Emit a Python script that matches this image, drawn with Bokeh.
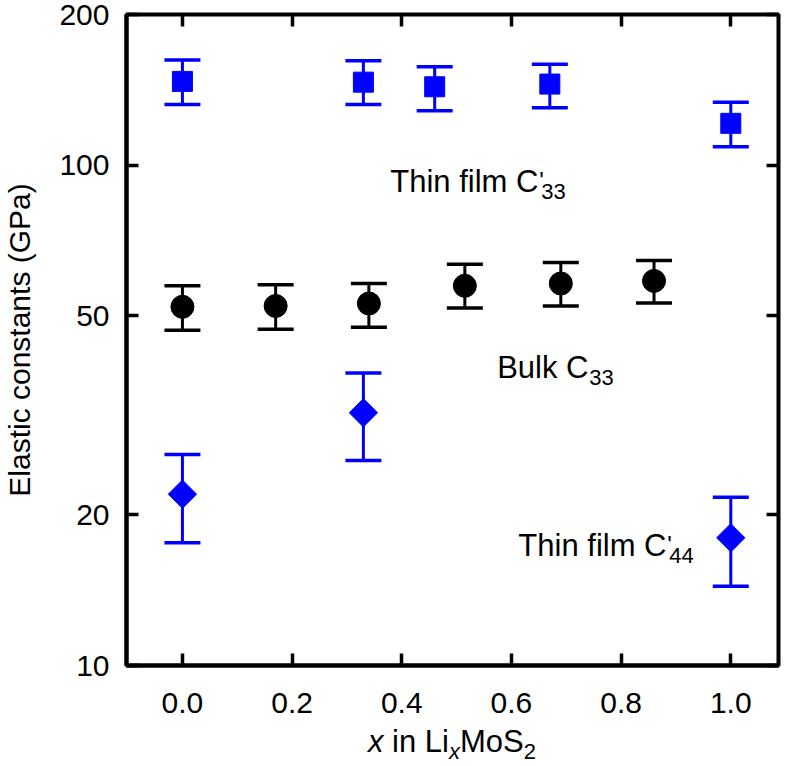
import numpy as np
from bokeh.plotting import figure
from bokeh.layouts import column
from bokeh.models import (Range1d, FixedTicker, NumeralTickFormatter, Whisker, TeeHead,
                          ColumnDataSource, Label, LinearAxis, LogAxis, Div)
from bokeh.embed import file_html
from bokeh.resources import INLINE

# ---- data ----
# Thin film C'33 (blue squares)
film33_x = [0.0, 0.33, 0.46, 0.67, 1.0]
film33_y = [147.0, 146.5, 143.4, 145.2, 121.2]
film33_lo = [132.2, 132.2, 128.4, 130.2, 108.8]
film33_hi = [162.2, 161.7, 157.3, 159.0, 133.5]

# Bulk C33 (black circles)
bulk33_x = [0.0, 0.17, 0.34, 0.515, 0.69, 0.86]
bulk33_y = [52.1, 52.3, 52.9, 57.4, 58.0, 58.7]
bulk33_lo = [46.8, 47.0, 47.4, 51.8, 52.3, 53.0]
bulk33_hi = [57.4, 57.7, 58.0, 63.4, 63.9, 64.5]

# Thin film C'44 (blue diamonds)
film44_x = [0.0, 0.33, 1.0]
film44_y = [22.0, 32.0, 18.0]
film44_lo = [17.6, 25.7, 14.4]
film44_hi = [26.4, 38.4, 21.7]

x_ticks = [0.0, 0.2, 0.4, 0.6, 0.8, 1.0]
y_ticks = [10, 20, 50, 100, 200]

FONT = "Liberation Sans"
BLUE = "#0000ff"

p = figure(width=788, height=728,
           x_range=Range1d(-0.102, 1.087), y_range=Range1d(10, 200),
           y_axis_type="log", output_backend="svg", toolbar_location=None,
           min_border_left=126, min_border_right=10, min_border_top=14, min_border_bottom=63)
p.grid.visible = False
p.outline_line_color = "black"
p.outline_line_width = 4
p.background_fill_color = "white"
p.border_fill_color = "white"


def style_axis(ax, labels=True):
    ax.axis_line_width = 4
    ax.major_tick_in = 12
    ax.major_tick_out = 0
    ax.major_tick_line_width = 3.5
    ax.minor_tick_line_color = None
    ax.major_label_text_font = FONT
    ax.major_label_text_color = "black"
    if labels:
        ax.major_label_text_font_size = "30px"
    else:
        ax.major_label_text_font_size = "0px"
        ax.major_label_text_color = None
        ax.major_label_standoff = 0
        ax.axis_line_color = None


xa = p.xaxis[0]
xa.ticker = FixedTicker(ticks=x_ticks)
xa.formatter = NumeralTickFormatter(format="0.0")
style_axis(xa)
xa.major_label_standoff = 27

ya = p.yaxis[0]
ya.ticker = FixedTicker(ticks=y_ticks)
ya.formatter = NumeralTickFormatter(format="0")
style_axis(ya)
ya.major_label_standoff = 17
ya.axis_label = "Elastic constants (GPa)"
ya.axis_label_text_font = FONT
ya.axis_label_text_font_size = "30px"
ya.axis_label_text_font_style = "normal"
ya.axis_label_text_color = "black"
ya.axis_label_standoff = 20

top = LinearAxis(ticker=FixedTicker(ticks=x_ticks))
style_axis(top, labels=False)
p.add_layout(top, "above")
right = LogAxis(ticker=FixedTicker(ticks=y_ticks))
style_axis(right, labels=False)
p.add_layout(right, "right")


def errbars(xs, lo, hi, color):
    src = ColumnDataSource(dict(x=xs, lower=lo, upper=hi))
    w = Whisker(base="x", lower="lower", upper="upper", source=src, dimension="height",
                line_color=color, line_width=3,
                upper_head=TeeHead(size=36, line_color=color, line_width=3.5),
                lower_head=TeeHead(size=36, line_color=color, line_width=3.5))
    p.add_layout(w)


errbars(film33_x, film33_lo, film33_hi, BLUE)
errbars(bulk33_x, bulk33_lo, bulk33_hi, "black")
errbars(film44_x, film44_lo, film44_hi, BLUE)

p.scatter(film33_x, film33_y, marker="square", size=20, color=BLUE)
p.scatter(bulk33_x, bulk33_y, marker="circle", size=23, color="black")
p.scatter(film44_x, film44_y, marker="square", angle=np.pi / 4, size=20, color=BLUE)


def piece(x, y, text, dx=0, dy=0, size=31, style="normal"):
    p.add_layout(Label(x=x, y=y, x_offset=dx, y_offset=dy, text=text,
                       text_font=FONT, text_font_size=f"{size}px", text_font_style=style,
                       text_align="left", text_baseline="alphabetic", text_color="black"))


# Thin film C'33
piece(0.379, 92.9, "Thin film C")
piece(0.379, 92.9, "'", dx=149, dy=1, size=24)
piece(0.379, 92.9, "33", dx=151, dy=-10, size=22)
# Bulk C33
piece(0.574, 39.45, "Bulk C")
piece(0.574, 39.45, "33", dx=92, dy=-10, size=22)
# Thin film C'44
piece(0.6126, 17.38, "Thin film C")
piece(0.6126, 17.38, "'", dx=149, dy=1, size=24)
piece(0.6126, 17.38, "44", dx=151, dy=-10, size=22)

# x-axis title (annotations are clipped to the frame, so it is set as text below the figure)
x_title = Div(
    text='<i>x</i> in Li<sub style="font-size:22px;vertical-align:-7px"><i>x</i></sub>'
         'MoS<sub style="font-size:22px;vertical-align:-7px">2</sub>',
    width=788, height=38,
    styles={"font-family": "Liberation Sans", "font-size": "31px", "line-height": "25px",
            "color": "black", "padding-left": "368px", "padding-top": "1px",
            "box-sizing": "border-box", "margin": "0", "white-space": "nowrap"})

layout = column(p, x_title, spacing=0)
open("out.html", "w").write(file_html(layout, INLINE))
